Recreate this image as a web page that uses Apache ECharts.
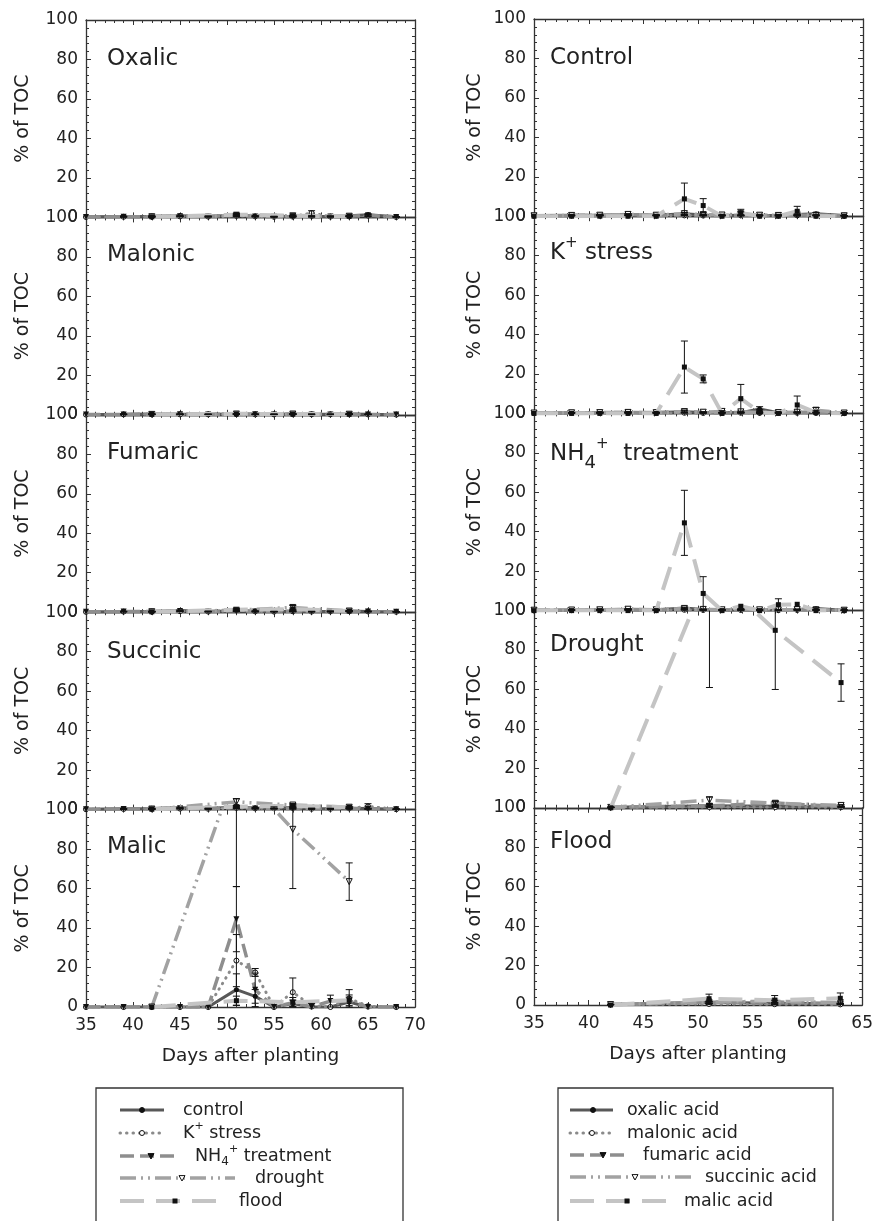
<!DOCTYPE html>
<html>
<head>
<meta charset="utf-8">
<script src="https://cdn.jsdelivr.net/npm/echarts/dist/echarts.min.js"></script>
<style>
html, body { margin: 0; padding: 0; background: #fff; }
#main { width: 876px; height: 1221px; }
</style>
</head>
<body>
<div id="main"></div>
<script>
// sampling days
var daysTreated = [35, 39, 42, 45, 48, 51, 53, 55, 57, 59, 61, 63, 65, 68]; // control, K+, NH4+
var daysStress = [42, 51, 57, 63]; // drought, flood

// oxalic acid
var oxalicControl = [0.3, 0.5, 0.6, 0.8, 0.5, 1.2, 0.6, 0.4, 0.5, 0.4, 0.5, 0.8, 1.3, 0.3];
var oxalicControlErr = [0, 0.2, 0.3, 0.3, 0.2, 0.5, 0.3, 0.2, 0.2, 0.2, 0.3, 0.3, 0.6, 0.1];
var oxalicK = [0.2, 0.3, 0.4, 0.5, 0.4, 0.8, 0.5, 0.3, 0.4, 2.2, 0.4, 0.5, 0.9, 0.2];
var oxalicKErr = [0, 0.1, 0.2, 0.2, 0.2, 0.4, 0.2, 0.1, 0.2, 1.2, 0.2, 0.2, 0.4, 0.1];
var oxalicNH4 = [0.2, 0.3, 0.4, 0.6, 0.4, 1.3, 0.5, 0.3, 0.4, 0.3, 0.4, 0.6, 1.1, 0.2];
var oxalicNH4Err = [0, 0.1, 0.2, 0.2, 0.2, 0.5, 0.2, 0.1, 0.2, 0.1, 0.2, 0.2, 0.4, 0.1];
var oxalicDrought = [0.3, 1.0, 0.8, 0.6];
var oxalicDroughtErr = [0.1, 0.4, 0.3, 0.2];
var oxalicFlood = [0.3, 1.4, 0.9, 0.6];
var oxalicFloodErr = [0.1, 0.5, 0.3, 0.2];

// malonic acid
var malonicControl = [0.2, 0.3, 0.4, 0.3, 0.3, 0.4, 0.3, 0.3, 0.4, 0.3, 0.3, 0.4, 0.3, 0.2];
var malonicControlErr = [0, 0.1, 0.1, 0.1, 0.1, 0.2, 0.1, 0.1, 0.1, 0.1, 0.1, 0.1, 0.1, 0];
var malonicK = [0.1, 0.2, 0.3, 0.2, 0.2, 0.3, 0.2, 0.2, 0.3, 0.2, 0.2, 0.3, 0.2, 0.1];
var malonicKErr = [0, 0.1, 0.1, 0.1, 0.1, 0.1, 0.1, 0.1, 0.1, 0.1, 0.1, 0.1, 0.1, 0];
var malonicNH4 = [0.1, 0.2, 0.3, 0.3, 0.2, 0.4, 0.3, 0.2, 0.3, 0.2, 0.2, 0.3, 0.2, 0.1];
var malonicNH4Err = [0, 0.1, 0.1, 0.1, 0.1, 0.2, 0.1, 0.1, 0.1, 0.1, 0.1, 0.1, 0.1, 0];
var malonicDrought = [0.2, 0.4, 0.4, 0.3];
var malonicDroughtErr = [0.1, 0.2, 0.2, 0.1];
var malonicFlood = [0.2, 0.5, 0.4, 0.3];
var malonicFloodErr = [0.1, 0.2, 0.2, 0.1];

// fumaric acid
var fumaricControl = [0.2, 0.3, 0.4, 0.8, 0.4, 0.7, 0.4, 0.3, 0.4, 0.3, 0.4, 0.6, 0.4, 0.2];
var fumaricControlErr = [0, 0.1, 0.2, 0.3, 0.2, 0.3, 0.2, 0.1, 0.2, 0.1, 0.2, 0.2, 0.2, 0.1];
var fumaricK = [0.2, 0.3, 0.3, 0.5, 0.3, 1.0, 0.4, 0.3, 0.5, 0.3, 0.4, 0.5, 0.4, 0.2];
var fumaricKErr = [0, 0.1, 0.1, 0.2, 0.1, 0.7, 0.2, 0.1, 0.2, 0.1, 0.2, 0.2, 0.2, 0.1];
var fumaricNH4 = [0.2, 0.3, 0.3, 0.6, 0.3, 0.8, 0.4, 0.3, 0.5, 0.3, 0.3, 0.4, 0.3, 0.2];
var fumaricNH4Err = [0, 0.1, 0.1, 0.2, 0.1, 0.3, 0.2, 0.1, 0.2, 0.1, 0.1, 0.2, 0.1, 0.1];
var fumaricDrought = [0.2, 1.0, 2.4, 0.6];
var fumaricDroughtErr = [0.1, 0.6, 1.0, 0.3];
var fumaricFlood = [0.2, 1.3, 1.6, 0.6];
var fumaricFloodErr = [0.1, 0.4, 0.5, 0.2];

// succinic acid
var succinicControl = [0.2, 0.4, 0.5, 0.9, 0.5, 1.3, 0.8, 0.6, 1.2, 0.5, 0.4, 0.7, 0.5, 0.2];
var succinicControlErr = [0, 0.2, 0.2, 0.3, 0.2, 0.6, 0.3, 0.2, 1.0, 0.2, 0.2, 0.3, 0.2, 0.1];
var succinicK = [0.2, 0.3, 0.4, 0.5, 0.4, 0.9, 0.6, 1.0, 0.8, 0.4, 0.4, 0.6, 1.6, 0.2];
var succinicKErr = [0, 0.1, 0.2, 0.2, 0.2, 0.4, 0.3, 0.4, 0.3, 0.2, 0.2, 0.2, 1.4, 0.1];
var succinicNH4 = [0.2, 0.3, 0.4, 0.7, 0.4, 1.1, 0.6, 0.4, 0.7, 0.4, 0.4, 0.5, 0.4, 0.2];
var succinicNH4Err = [0, 0.1, 0.2, 0.3, 0.2, 0.4, 0.2, 0.2, 0.3, 0.2, 0.2, 0.2, 0.2, 0.1];
var succinicDrought = [0.2, 3.9, 2.3, 1.2];
var succinicDroughtErr = [0.1, 1.7, 0.8, 0.5];
var succinicFlood = [0.2, 1.5, 1.9, 1.2];
var succinicFloodErr = [0.1, 0.5, 0.6, 0.4];

// malic acid
var malicControl = [0, 0, 0, 0, 0, 8.8, 5.4, 0, 1.7, 0, 0, 2.5, 0, 0];
var malicControlErr = [0, 0, 0, 0, 0, 8, 3.5, 0, 1.8, 0, 0, 2.5, 0, 0];
var malicK = [0, 0, 0, 0, 0, 23.5, 17.5, 0, 7.5, 0.6, 0, 4.3, 0.4, 0];
var malicKErr = [0, 0, 0, 0, 0, 13.2, 2, 0, 7.2, 1.2, 0, 4.5, 0, 0];
var malicNH4 = [0, 0, 0, 0, 0, 44.5, 8.7, 0, 2.2, 0, 3, 3.2, 0, 0];
var malicNH4Err = [0, 0, 0, 0, 0, 16.5, 8.5, 0, 0, 0, 3, 0, 0, 0];
var malicDrought = [0, 121, 90, 63.5];
var malicDroughtErr = [0, 60, 30, 9.5];
var malicFlood = [0, 3.2, 2.4, 3.4];
var malicFloodErr = [0, 2.3, 2.4, 2.7];

var acidTitles = ['{n|Oxalic}', '{n|Malonic}', '{n|Fumaric}', '{n|Succinic}', '{n|Malic}'];
var treatmentTitles = ['{n|Control}', '{n|K}{sup|+}{n| stress}', '{n|NH}{sub|4}{sup|+}{n|  treatment}', '{n|Drought}', '{n|Flood}'];
var treatmentLegend = ['{n|control}', '{n|K}{sup|+}{n| stress}', '{n|NH}{sub|4}{sup|+}{n| treatment}', '{n|drought}', '{n|flood}'];
var acidLegend = ['{n|oxalic acid}', '{n|malonic acid}', '{n|fumaric acid}', '{n|succinic acid}', '{n|malic acid}'];

// [acid][treatment] -> [values, errors]
var table = [
    [[oxalicControl, oxalicControlErr], [oxalicK, oxalicKErr], [oxalicNH4, oxalicNH4Err], [oxalicDrought, oxalicDroughtErr], [oxalicFlood, oxalicFloodErr]],
    [[malonicControl, malonicControlErr], [malonicK, malonicKErr], [malonicNH4, malonicNH4Err], [malonicDrought, malonicDroughtErr], [malonicFlood, malonicFloodErr]],
    [[fumaricControl, fumaricControlErr], [fumaricK, fumaricKErr], [fumaricNH4, fumaricNH4Err], [fumaricDrought, fumaricDroughtErr], [fumaricFlood, fumaricFloodErr]],
    [[succinicControl, succinicControlErr], [succinicK, succinicKErr], [succinicNH4, succinicNH4Err], [succinicDrought, succinicDroughtErr], [succinicFlood, succinicFloodErr]],
    [[malicControl, malicControlErr], [malicK, malicKErr], [malicNH4, malicNH4Err], [malicDrought, malicDroughtErr], [malicFlood, malicFloodErr]]
];

(function () {
    var FONT = 'DejaVu Sans';
    var INK = '#222';

    // one look per line: solid, dotted, dashed, dash-dot-dot, long dash
    var styles = [
        { color: '#585858', width: 3, type: 'solid', cap: 'butt', symbol: 'circle', size: 5, fill: '#111', border: '#111', rotate: 0 },
        { color: '#8a8a8a', width: 3, type: [0.5, 6], cap: 'round', symbol: 'circle', size: 5, fill: '#fff', border: '#111', rotate: 0 },
        { color: '#8e8e8e', width: 3.5, type: [14, 6], cap: 'butt', symbol: 'triangle', size: 6, fill: '#111', border: '#111', rotate: 180 },
        { color: '#a2a2a2', width: 3.5, type: [16, 5, 2, 5, 2, 5], cap: 'butt', symbol: 'triangle', size: 6, fill: '#fff', border: '#111', rotate: 180 },
        { color: '#c4c4c4', width: 4, type: [24, 12], cap: 'butt', symbol: 'rect', size: 5, fill: '#111', border: '#111', rotate: 0 }
    ];

    var colLeft = [86, 534];
    var colWidth = 329;
    var colTop = [20, 19];
    var panelH = [197.4, 197.2];
    var xMax = [70, 65];
    var yNameGap = [53, 49];
    var titleX = [107, 550];
    var titleOff = [[39, 38, 38.5, 39.5, 37.5], [39, 37, 41, 34, 34.5]];

    function xAxisCfg(grid, pos, max, bottom) {
        return {
            gridIndex: grid, type: 'value', position: pos, min: 35, max: max, interval: 5,
            axisLine: { show: true, onZero: false, lineStyle: { color: '#333', width: 1.3 } },
            axisTick: { show: true, inside: true, length: 5, lineStyle: { color: '#333', width: 1 } },
            minorTick: { show: true, splitNumber: 5, length: 3, lineStyle: { color: '#333', width: 1 } },
            splitLine: { show: false },
            axisLabel: { show: bottom, showMinLabel: true, showMaxLabel: true, margin: 10, color: INK, fontFamily: FONT, fontSize: 17 },
            name: bottom ? 'Days after planting' : '',
            nameLocation: 'middle', nameGap: 40,
            nameTextStyle: { color: INK, fontFamily: FONT, fontSize: 18.5 }
        };
    }

    function yAxisCfg(grid, pos, labels, gap) {
        return {
            gridIndex: grid, type: 'value', position: pos, min: 0, max: 100, interval: 20,
            axisLine: { show: true, onZero: false, lineStyle: { color: '#333', width: 1.3 } },
            axisTick: { show: true, inside: true, length: 5, lineStyle: { color: '#333', width: 1 } },
            minorTick: { show: true, splitNumber: 5, length: 3, lineStyle: { color: '#333', width: 1 } },
            splitLine: { show: false },
            axisLabel: { show: labels, showMinLabel: true, showMaxLabel: true, margin: 8, color: INK, fontFamily: FONT, fontSize: 17 },
            name: labels ? '% of TOC' : '',
            nameLocation: 'middle', nameGap: gap, nameRotate: 90,
            nameTextStyle: { color: INK, fontFamily: FONT, fontSize: 19 }
        };
    }

    function lineSeries(xi, yi, days, vals, st, z) {
        return {
            type: 'line', xAxisIndex: xi, yAxisIndex: yi,
            data: days.map(function (d, i) { return [d, vals[i]]; }),
            symbol: st.symbol, symbolSize: st.size, symbolRotate: st.rotate, showAllSymbol: true,
            lineStyle: { color: st.color, width: st.width, type: st.type, cap: st.cap },
            itemStyle: { color: st.fill, borderColor: st.border, borderWidth: st.fill === '#fff' ? 1 : 0 },
            z: z, silent: true, animation: false
        };
    }

    function errorSeries(xi, yi, days, vals, errs) {
        var data = [];
        for (var i = 0; i < days.length; i++) {
            if (errs[i] > 0) data.push([days[i], vals[i] - errs[i], vals[i] + errs[i]]);
        }
        return {
            type: 'custom', xAxisIndex: xi, yAxisIndex: yi, z: 10, silent: true, animation: false,
            encode: { x: 0, y: [1, 2] },
            data: data,
            renderItem: function (params, api) {
                var x = api.coord([api.value(0), 0])[0];
                var lo = api.coord([api.value(0), api.value(1)])[1];
                var hi = api.coord([api.value(0), api.value(2)])[1];
                var yTop = params.coordSys.y, yBottom = params.coordSys.y + params.coordSys.height;
                var ink = { stroke: '#111', lineWidth: 1 };
                var kids = [{ type: 'line', shape: { x1: x, y1: Math.max(hi, yTop), x2: x, y2: Math.min(lo, yBottom) }, style: ink }];
                if (hi >= yTop) kids.push({ type: 'line', shape: { x1: x - 3.5, y1: hi, x2: x + 3.5, y2: hi }, style: ink });
                if (lo <= yBottom) kids.push({ type: 'line', shape: { x1: x - 3.5, y1: lo, x2: x + 3.5, y2: lo }, style: ink });
                return { type: 'group', children: kids };
            }
        };
    }

    var grids = [], xAxes = [], yAxes = [], series = [], graphics = [];

    var titleRich = {
        n: { fontFamily: FONT, fontSize: 23, lineHeight: 36, color: INK },
        sup: { fontFamily: FONT, fontSize: 15, lineHeight: 20, verticalAlign: 'top', color: INK },
        sub: { fontFamily: FONT, fontSize: 18, lineHeight: 14, verticalAlign: 'bottom', color: INK }
    };

    for (var r = 0; r < 5; r++) {
        for (var c = 0; c < 2; c++) {
            var g = grids.length;
            var panelTop = colTop[c] + r * panelH[c];
            grids.push({ left: colLeft[c], top: panelTop, width: colWidth, height: panelH[c] });
            var xb = xAxes.length;
            xAxes.push(xAxisCfg(g, 'bottom', xMax[c], r === 4));
            xAxes.push(xAxisCfg(g, 'top', xMax[c], false));
            var xd = xb;
            // control, K+ and NH4+ panels on the right are drawn on a 35-70 day scale
            if (c === 1 && r < 3) {
                xd = xAxes.length;
                xAxes.push({ gridIndex: g, type: 'value', min: 35, max: 70, show: false });
            }
            var yl = yAxes.length;
            yAxes.push(yAxisCfg(g, 'left', true, yNameGap[c]));
            yAxes.push(yAxisCfg(g, 'right', false, 0));

            for (var k = 0; k < 5; k++) {
                var acid = c === 0 ? r : k;
                var treat = c === 0 ? k : r;
                var days = treat < 3 ? daysTreated : daysStress;
                var pair = table[acid][treat];
                series.push(lineSeries(xd, yl, days, pair[0], styles[k], 2 + k));
                series.push(errorSeries(xd, yl, days, pair[0], pair[1]));
            }

            graphics.push({
                type: 'text', x: titleX[c], y: panelTop + titleOff[c][r], z: 50,
                style: {
                    text: c === 0 ? acidTitles[r] : treatmentTitles[r],
                    rich: titleRich, fontFamily: FONT, fontSize: 23, fill: INK,
                    align: 'left', verticalAlign: 'middle'
                }
            });
        }
    }

    // legend boxes drawn as plain graphics so each key keeps its own length
    var legendRich = {
        n: { fontFamily: FONT, fontSize: 17.5, lineHeight: 24, color: INK },
        sup: { fontFamily: FONT, fontSize: 11, lineHeight: 12, verticalAlign: 'top', color: INK },
        sub: { fontFamily: FONT, fontSize: 12, lineHeight: 4, verticalAlign: 'bottom', color: INK }
    };

    function marker(st, cx, cy) {
        if (st.symbol === 'circle') {
            return { type: 'circle', shape: { cx: cx, cy: cy, r: st.size / 2 }, style: { fill: st.fill, stroke: st.border, lineWidth: 1 } };
        }
        if (st.symbol === 'rect') {
            return { type: 'rect', shape: { x: cx - st.size / 2, y: cy - st.size / 2, width: st.size, height: st.size }, style: { fill: st.fill } };
        }
        var h = st.size / 2;
        return { type: 'polygon', shape: { points: [[cx - h, cy - h * 0.8], [cx + h, cy - h * 0.8], [cx, cy + h]] }, style: { fill: st.fill, stroke: st.border, lineWidth: 1 } };
    }

    function legendBox(x, w, keys, labels) {
        graphics.push({ type: 'rect', shape: { x: x, y: 1088, width: w, height: 160 }, style: { fill: 'none', stroke: '#333', lineWidth: 1.3 } });
        keys.forEach(function (key, i) {
            var st = styles[i];
            graphics.push({
                type: 'line', shape: { x1: key[0], y1: key[3], x2: key[1], y2: key[3] },
                style: { stroke: st.color, lineWidth: st.width, lineDash: st.type === 'solid' ? null : st.type, lineCap: st.cap }
            });
            graphics.push(marker(st, key[2], key[3]));
            graphics.push({
                type: 'text', x: key[4], y: key[3],
                style: { text: labels[i], rich: legendRich, fontFamily: FONT, fontSize: 17.5, fill: INK, align: 'left', verticalAlign: 'middle' }
            });
        });
    }

    // [x1, x2, marker x, y, text x]
    legendBox(96, 307, [
        [120, 164, 142, 1110, 183],
        [120, 164, 142, 1133, 183],
        [120, 175, 151, 1156, 195],
        [120, 235, 182, 1178, 255],
        [120, 218, 175, 1201, 239]
    ], treatmentLegend);
    legendBox(558, 275, [
        [570, 613, 593, 1110, 627],
        [570, 610, 592, 1133, 627],
        [570, 627, 603, 1155, 643],
        [570, 692, 635, 1177, 705],
        [570, 670, 627, 1201, 684]
    ], acidLegend);

    var chart = echarts.init(document.getElementById('main'));
    chart.setOption({
        backgroundColor: '#fff',
        animation: false,
        grid: grids,
        xAxis: xAxes,
        yAxis: yAxes,
        series: series,
        graphic: graphics
    });
})();
</script>
</body>
</html>
